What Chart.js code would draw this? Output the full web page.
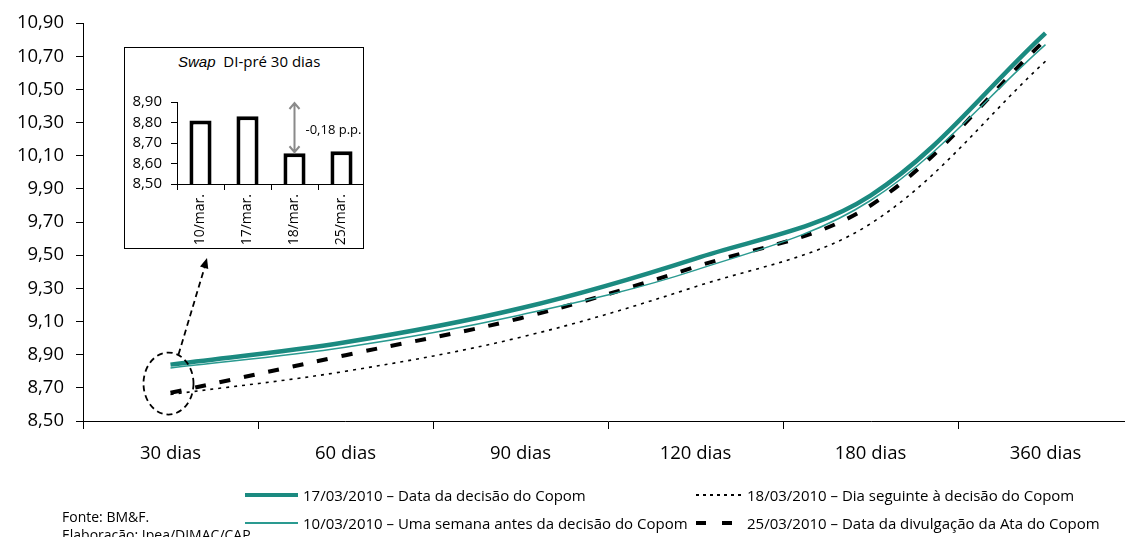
<!DOCTYPE html>
<html>
<head>
<meta charset="utf-8">
<script src="https://cdn.jsdelivr.net/npm/chart.js@4.4.0/dist/chart.umd.min.js"></script>
<style>
	html, body { margin: 0; padding: 0; background: #fff; overflow: hidden; }
	body { width: 1125px; height: 537px; position: relative; font-family: "Open Sans", sans-serif; color: #000; }
	#main { position: absolute; left: 0; top: 0; }
	#inset { position: absolute; left: 124px; top: 47px; width: 240px; height: 202px; border: 1.5px solid #000; box-sizing: border-box; background: #fff; overflow: hidden; }
	#inset canvas { position: absolute; left: 0; top: 0; }
	#inset-title { position: absolute; left: 53px; top: 3px; font-size: 15px; white-space: nowrap; }
	#inset-title i { font-family: "Liberation Sans", Arial, sans-serif; font-size: 15px; }
	.legend { position: absolute; font-size: 15px; white-space: nowrap; display: flex; align-items: center; }
	.legend .sample { display: inline-block; margin-right: 5px; }
	#source { position: absolute; left: 62px; top: 508px; font-size: 14px; line-height: 18px; }
</style>
</head>
<body>
<canvas id="main" width="1133" height="537"></canvas>
<div id="inset">
	<div id="inset-title"><i>Swap</i>&nbsp; DI-pré 30 dias</div>
	<canvas id="swap" width="240" height="199"></canvas>
</div>
<div class="legend" style="left:245px; top:485px;"><span class="sample" style="width:53px; height:4px; background:#1b8a80;"></span>17/03/2010 – Data da decisão do Copom</div>
<div class="legend" style="left:245px; top:513px;"><span class="sample" style="width:53px; height:1.5px; background:#2a9a90;"></span>10/03/2010 – Uma semana antes da decisão do Copom</div>
<div class="legend" style="left:696px; top:485px;"><span class="sample" style="width:46px; height:2px; background:repeating-linear-gradient(to right,#000 0 3px,transparent 3px 7px);"></span>18/03/2010 – Dia seguinte à decisão do Copom</div>
<div class="legend" style="left:696px; top:513px;"><span class="sample" style="width:46px; height:4px; background:repeating-linear-gradient(to right,#000 0 10px,transparent 10px 26px);"></span>25/03/2010 – Data da divulgação da Ata do Copom</div>
<div id="source">Fonte: BM&amp;F.<br>Elaboração: Ipea/DIMAC/CAP</div>

<script>
// Chart data
const TERMS = ["30 dias", "60 dias", "90 dias", "120 dias", "180 dias", "360 dias"];
const Y_TICKS = [8.5, 8.7, 8.9, 9.1, 9.3, 9.5, 9.7, 9.9, 10.1, 10.3, 10.5, 10.7, 10.9];
const CURVE_17MAR = [8.84, 8.975, 9.18, 9.48, 9.86, 10.84];
const CURVE_10MAR = [8.82, 8.945, 9.14, 9.41, 9.83, 10.77];
const CURVE_18MAR = [8.66, 8.80, 9.005, 9.31, 9.69, 10.67];
const CURVE_25MAR = [8.67, 8.897, 9.12, 9.43, 9.80, 10.80];

const SWAP_DATES = ["10/mar.", "17/mar.", "18/mar.", "25/mar."];
const SWAP_30D = [8.81, 8.83, 8.65, 8.66];
const SWAP_TICKS = [8.5, 8.6, 8.7, 8.8, 8.9];
const SWAP_ARROW_TOP = 8.90;

const TEAL = "#1b8a80";
const TEAL_LIGHT = "#2a9a90";
const FONT = "'Open Sans', sans-serif";
const fmt = (v) => v.toFixed(2).replace(".", ",");

Chart.defaults.font.family = FONT;
Chart.defaults.color = "#000";

// Circle around the 30-day points and dashed arrow pointing to the inset
const highlightPlugin = {
	id: "highlight",
	afterDatasetsDraw(chart) {
		const { ctx, scales: { x, y } } = chart;
		const cx = x.getPixelForValue(0) - 2;
		const top = y.getPixelForValue(Math.max(CURVE_17MAR[0], CURVE_10MAR[0]));
		const bottom = y.getPixelForValue(Math.min(CURVE_18MAR[0], CURVE_25MAR[0]));
		const cy = (top + bottom) / 2 + 4;
		ctx.save();
		ctx.strokeStyle = "#000";
		ctx.lineWidth = 1.8;
		ctx.setLineDash([6, 4]);
		ctx.beginPath();
		ctx.ellipse(cx, cy, 25, 31, 0, 0, Math.PI * 2);
		ctx.stroke();
		// arrow
		const sx = cx + 10, sy = cy - 29;
		const tx = 207, ty = 258;
		ctx.beginPath();
		ctx.moveTo(sx, sy);
		ctx.lineTo(tx - 2, ty + 8);
		ctx.stroke();
		ctx.setLineDash([]);
		const ang = Math.atan2(ty - sy, tx - sx);
		ctx.fillStyle = "#000";
		ctx.beginPath();
		ctx.moveTo(tx, ty);
		ctx.lineTo(tx - 11 * Math.cos(ang - 0.4), ty - 11 * Math.sin(ang - 0.4));
		ctx.lineTo(tx - 11 * Math.cos(ang + 0.4), ty - 11 * Math.sin(ang + 0.4));
		ctx.closePath();
		ctx.fill();
		ctx.restore();
	},
};

const lineSet = (label, data, color, width, dash) => ({
	label,
	data,
	borderColor: color,
	backgroundColor: color,
	borderWidth: width,
	borderDash: dash,
	borderCapStyle: "butt",
	tension: 0.35,
	pointRadius: 0,
	fill: false,
});

new Chart(document.getElementById("main"), {
	type: "line",
	data: {
		labels: TERMS,
		datasets: [
			lineSet("17/03/2010 – Data da decisão do Copom", CURVE_17MAR, TEAL, 4.5, []),
			lineSet("10/03/2010 – Uma semana antes da decisão do Copom", CURVE_10MAR, TEAL_LIGHT, 1.5, []),
			lineSet("18/03/2010 – Dia seguinte à decisão do Copom", CURVE_18MAR, "#000", 1.6, [3, 5]),
			lineSet("25/03/2010 – Data da divulgação da Ata do Copom", CURVE_25MAR, "#000", 4, [11, 14]),
		],
	},
	options: {
		responsive: false,
		animation: false,
		layout: { padding: { top: 22, left: 0, right: 0, bottom: 0 } },
		scales: {
			x: {
				offset: true,
				grid: { offset: true, drawOnChartArea: false, drawTicks: true, tickLength: 8, color: "#000" },
				border: { display: true, color: "#000", width: 1 },
				ticks: { padding: 14, font: { size: 18.5 }, maxRotation: 0 },
				afterFit: (s) => { s.height = 116; },
			},
			y: {
				min: 8.5,
				max: 10.9,
				afterBuildTicks: (s) => { s.ticks = Y_TICKS.map((v) => ({ value: v })); },
				grid: { drawOnChartArea: false, drawTicks: true, tickLength: 7, color: "#000" },
				border: { display: true, color: "#000", width: 1 },
				ticks: { padding: 12, autoSkip: false, font: { size: 18.5 }, callback: (v) => fmt(v) },
				afterFit: (s) => { s.width = 83; },
			},
		},
		plugins: { legend: { display: false }, tooltip: { enabled: false } },
	},
	plugins: [highlightPlugin],
});

// Gap arrow (17/mar -> 18/mar) and its label in the inset
const gapPlugin = {
	id: "gap",
	afterDatasetsDraw(chart) {
		const { ctx, scales: { x, y } } = chart;
		const gx = x.getPixelForValue(2);
		const y1 = y.getPixelForValue(SWAP_ARROW_TOP);
		const y2 = y.getPixelForValue(SWAP_30D[2]) - 1;
		ctx.save();
		ctx.strokeStyle = "#8a8a8a";
		ctx.lineWidth = 2;
		ctx.beginPath();
		ctx.moveTo(gx, y1 + 1);
		ctx.lineTo(gx, y2);
		ctx.moveTo(gx - 5, y1 + 7);
		ctx.lineTo(gx, y1 + 1);
		ctx.lineTo(gx + 5, y1 + 7);
		ctx.moveTo(gx - 5, y2 - 6);
		ctx.lineTo(gx, y2);
		ctx.lineTo(gx + 5, y2 - 6);
		ctx.stroke();
		ctx.fillStyle = "#000";
		ctx.font = "13px " + FONT;
		ctx.textBaseline = "middle";
		ctx.fillText(fmt(SWAP_30D[2] - SWAP_30D[1]) + " p.p.", gx + 11, (y1 + y2) / 2 + 3);
		ctx.restore();
	},
};

new Chart(document.getElementById("swap"), {
	type: "bar",
	data: {
		labels: SWAP_DATES,
		datasets: [{
			data: SWAP_30D,
			backgroundColor: "#fff",
			borderColor: "#000",
			borderWidth: 4,
			borderSkipped: false,
			barPercentage: 0.47,
			categoryPercentage: 1,
		}],
	},
	options: {
		responsive: false,
		animation: false,
		layout: { padding: { top: 54, left: 0, right: 0, bottom: 0 } },
		scales: {
			x: {
				grid: { offset: true, drawOnChartArea: false, drawTicks: true, tickLength: 6, color: "#000" },
				border: { display: true, color: "#000", width: 1 },
				ticks: { padding: 4, autoSkip: false, font: { size: 14 }, minRotation: 90, maxRotation: 90 },
				afterFit: (s) => { s.height = 63; },
			},
			y: {
				min: 8.5,
				max: 8.9,
				afterBuildTicks: (s) => { s.ticks = SWAP_TICKS.map((v) => ({ value: v })); },
				grid: { drawOnChartArea: false, drawTicks: true, tickLength: 6, color: "#000" },
				border: { display: true, color: "#000", width: 1 },
				ticks: { padding: 9, autoSkip: false, font: { size: 15 }, callback: (v) => fmt(v) },
				afterFit: (s) => { s.width = 52; },
			},
		},
		plugins: { legend: { display: false }, tooltip: { enabled: false } },
	},
	plugins: [gapPlugin],
});
</script>
</body>
</html>
